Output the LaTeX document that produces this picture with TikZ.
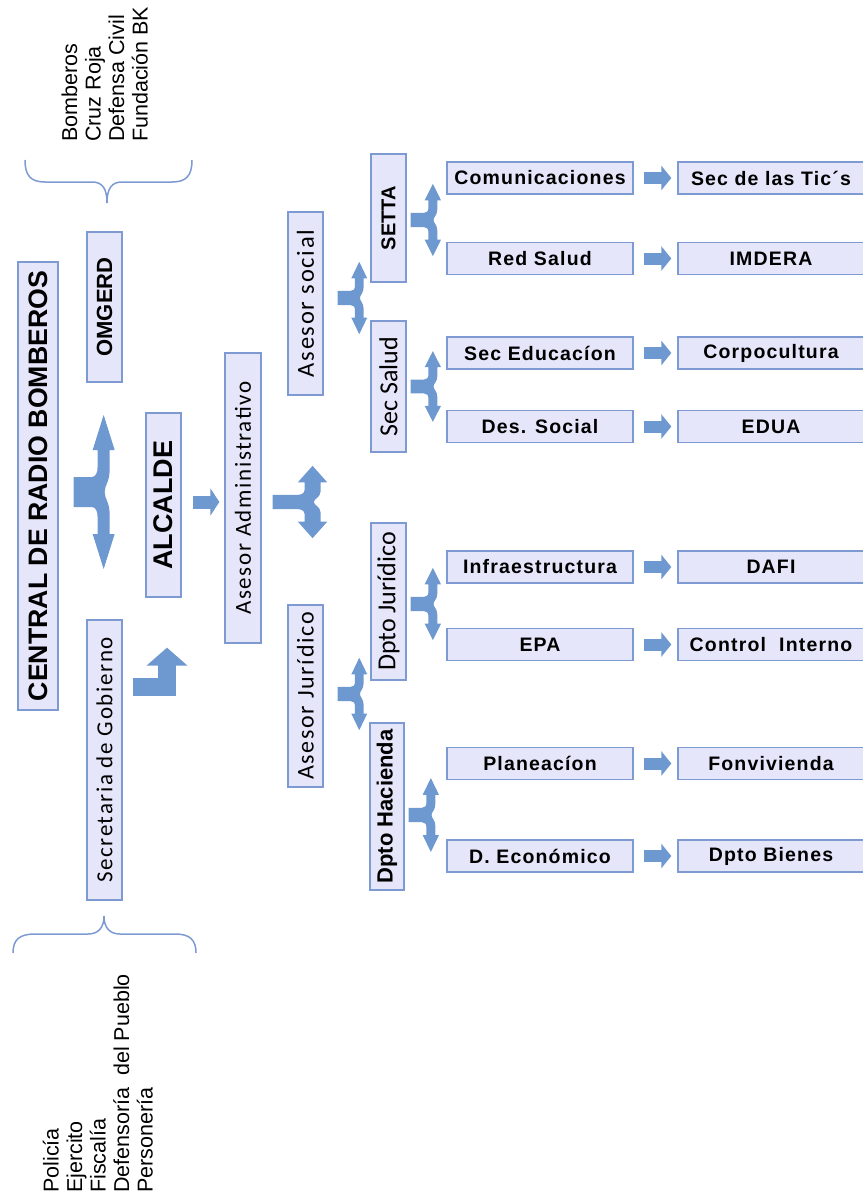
\documentclass[tikz,border=0pt]{standalone}
\usepackage{fontspec}
\usepackage{graphicx}
\setmainfont{Liberation Sans}
\newfontfamily\calibrifont{Carlito}
\newfontfamily\spacedfont[LetterSpace=6]{Liberation Sans}
\newfontfamily\spacedcalibri[LetterSpace=7]{Carlito}
\usetikzlibrary{calc,arrows.meta,positioning}
\definecolor{boxBlue}{RGB}{125,155,210}
\definecolor{boxFill}{RGB}{230,230,250}
\definecolor{arrowBlue}{RGB}{110,152,208}
\newcommand{\vtext}[1]{\rotatebox{90}{#1}}
\newcommand{\forkArrow}[3]{%
  \fill[arrowBlue,shift={(#1)},xscale=#2,yscale=#3]
    (0,-15) -- (18,-15) .. controls (22,-15) and (24,-19) .. (24,-26)
    -- (24,-42) -- (19,-42) -- (30,-77) -- (41,-42) -- (36,-42)
    -- (36,-22) .. controls (36,-10) and (31,-7) .. (31,0)
    .. controls (31,7) and (36,10) .. (36,22)
    -- (36,42) -- (41,42) -- (30,77) -- (19,42) -- (24,42)
    -- (24,26) .. controls (24,19) and (22,15) .. (18,15)
    -- (0,15) -- cycle;}

\begin{document}
\begin{tikzpicture}[x=1pt,y=-1pt,line cap=butt,line join=miter,
  orgbox/.style={draw=boxBlue,fill=boxFill,line width=1.3pt,inner sep=0pt},
  vbox/.style={orgbox,minimum width=35pt},
  leftbox/.style={orgbox,minimum width=186pt,minimum height=32pt,
    font=\spacedfont\bfseries\fontsize{19.5}{19.5}\selectfont},
  rightbox/.style={leftbox},
  flowarrow/.style={arrowBlue,line width=12pt,-{Triangle[width=24pt,length=10pt]}},
  bentarrow/.style={arrowBlue,line width=18pt,-{Triangle[width=40pt,length=18pt]}},
  braceline/.style={boxBlue,line width=1.5pt},
  listtext/.style={rotate=90,align=left,inner sep=0pt,font=\fontsize{21.5}{23.5}\selectfont}]
  \useasboundingbox (0,0) rectangle (862,1196);

  % left part
  \node[vbox,minimum width=40pt,minimum height=448pt,font=\bfseries\fontsize{26.7}{26.7}\selectfont] (central) at (38,486) {\vtext{CENTRAL DE RADIO BOMBEROS}};
  \node[vbox,minimum height=150pt,font=\bfseries\fontsize{22}{22}\selectfont] (omgerd) at (104.5,307) {\vtext{OMGERD}};
  \node[vbox,minimum height=280pt,font=\spacedcalibri\fontsize{23}{23}\selectfont] (secgob) at (104.5,760) {\vtext{Secretaria de Gobierno}};
  \node[vbox,minimum height=184pt,font=\bfseries\fontsize{27}{27}\selectfont] (alcalde) at (163.5,505) {\vtext{ALCALDE}};
  \node[vbox,minimum width=36pt,minimum height=290pt,font=\spacedcalibri\fontsize{23}{23}\selectfont] (asadm) at (243,498) {\vtext{Asesor Administrativo}};

  % asesores
  \node[vbox,minimum height=183pt,font=\spacedcalibri\fontsize{24.5}{24.5}\selectfont] (assoc) at (305.5,303.5) {\vtext{Asesor social}};
  \node[vbox,minimum height=182pt,font=\spacedcalibri\fontsize{24}{24}\selectfont] (asjur) at (305.5,696) {\vtext{Asesor Jurídico}};

  % secretarias
  \node[vbox,minimum height=128pt,font=\bfseries\fontsize{20}{20}\selectfont] (setta) at (388.5,218) {\vtext{SETTA}};
  \node[vbox,minimum height=131pt,font=\calibrifont\fontsize{26}{26}\selectfont] (secsalud) at (388.5,386.5) {\vtext{Sec Salud}};
  \node[vbox,minimum height=157pt,font=\calibrifont\fontsize{26}{26}\selectfont] (dptojur) at (388.5,601.5) {\vtext{Dpto Jurídico}};
  \node[vbox,minimum width=34pt,minimum height=167pt,font=\bfseries\fontsize{22}{22}\selectfont] (dptohac) at (387,806.5) {\vtext{Dpto Hacienda}};

  % dependencias
  \node[leftbox] (comunic) at (540,178) {Comunicaciones};
  \node[leftbox] (redsalud) at (540,258.5) {Red Salud};
  \node[leftbox] (seceduc) at (540,353) {Sec Educacíon};
  \node[leftbox] (dessocial) at (540,426.5) {Des. Social};
  \node[leftbox] (infra) at (540,567) {Infraestructura};
  \node[leftbox] (epa) at (540,644.5) {EPA};
  \node[leftbox] (planea) at (540,763.5) {Planeacíon};
  \node[leftbox] (deco) at (540,856) {D. Económico};

  \node[rightbox] (tics) at (771,178) {Sec de las Tic´s};
  \node[rightbox] (imdera) at (771,258.5) {IMDERA};
  \node[rightbox] (corpo) at (771,353) {Corpocultura};
  \node[rightbox] (edua) at (771,426.5) {EDUA};
  \node[rightbox] (dafi) at (771,567) {DAFI};
  \node[rightbox] (control) at (771,644.5) {Control\ \ Interno};
  \node[rightbox] (fonviv) at (771,763.5) {Fonvivienda};
  \node[rightbox] (bienes) at (771,856) {Dpto Bienes};

  % flechas
  \foreach \a/\b in {comunic/tics,redsalud/imdera,seceduc/corpo,dessocial/edua,
                     infra/dafi,epa/control,planea/fonviv,deco/bienes}
    \draw[flowarrow] ([xshift=10pt]\a.east) -- ([xshift=-6pt]\b.west);
  \draw[flowarrow,line width=13pt,-{Triangle[width=27pt,length=9pt]}] ([xshift=11pt,yshift=3pt]alcalde.east) -- ([xshift=-5pt,yshift=-4pt]asadm.west);
  \draw[bentarrow] ([xshift=10pt,yshift=73pt]secgob.east) -| ([xshift=3.5pt,yshift=-50pt]alcalde.south);

  \coordinate (f0) at ([xshift=15pt,yshift=-6pt]central.east);
  \coordinate (f1) at ([xshift=11pt,yshift=-4pt]asadm.east);
  \coordinate (f2) at ([xshift=14pt,yshift=5.5pt]assoc.east);
  \coordinate (f3) at ([xshift=14pt,yshift=2pt]asjur.east);
  \coordinate (f4) at ([xshift=4pt,yshift=-2pt]setta.east);
  \coordinate (f5) at ([xshift=4pt]secsalud.east);
  \coordinate (f6) at ([xshift=4pt,yshift=-2.5pt]dptojur.east);
  \coordinate (f7) at ([xshift=4pt,yshift=-8.5pt]dptohac.east);
  \forkArrow{f0}{1}{1}
  \forkArrow{f1}{1.33}{0.47}
  \forkArrow{f2}{0.72}{0.47}
  \forkArrow{f3}{0.72}{0.47}
  \forkArrow{f4}{0.74}{0.47}
  \forkArrow{f5}{0.74}{0.46}
  \forkArrow{f6}{0.74}{0.47}
  \forkArrow{f7}{0.74}{0.48}

  % llaves y listas
  \draw[braceline] (25,160) .. controls (25,176) and (31,182) .. (45,182) -- (92,182)
    .. controls (102,182) and (107,188) .. (107,203)
    .. controls (107,188) and (112,182) .. (122,182) -- (172,182)
    .. controls (186,182) and (192,176) .. (192,160);
  \draw[braceline] (13,953) .. controls (13,940) and (19,934) .. (35,934) -- (88,934)
    .. controls (98,934) and (104,928) .. (104,916)
    .. controls (104,928) and (110,934) .. (120,934) -- (175,934)
    .. controls (190,934) and (196,940) .. (196,953);
  \node[listtext,anchor=south west] (toplist) at (148,142) {Bomberos\\Cruz Roja\\Defensa Civil\\Fundación BK};
  \node[listtext,anchor=south west] (botlist) at (153,1193) {Policía\\Ejercito\\Fiscalía\\Defensoría\ \ del Pueblo\\Personería};
\end{tikzpicture}
\end{document}
